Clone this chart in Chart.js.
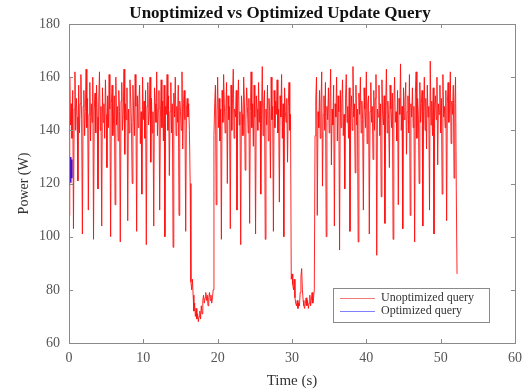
<!DOCTYPE html>
<html>
<head>
<meta charset="utf-8">
<script src="https://cdn.jsdelivr.net/npm/chart.js@4.4.1/dist/chart.umd.min.js"></script>
<style>
  html, body { margin: 0; padding: 0; background: #fff; }
  #wrap { width: 529px; height: 390px; }
</style>
</head>
<body>
<div id="wrap"><canvas id="powerChart" width="529" height="390"></canvas></div>
<script>
const sampleStep = 0.1;
const unoptPower = [
  // 0 - 16.3 s
  108,160,142,150,137,155,103,148,162,140,152,145,121,157,139,150,161,144,101,149,
  155,138,147,163,141,152,110,146,158,136,150,143,160,99,148,154,139,157,145,118,
  151,162,140,149,104,156,143,150,137,159,146,126,153,141,161,148,100,150,157,138,
  145,153,112,160,142,149,136,155,147,98,151,158,140,146,163,131,150,144,156,106,
  148,139,159,152,143,120,157,146,138,161,149,102,153,141,150,157,135,147,116,160,
  144,151,137,155,97,149,158,142,146,160,128,152,139,147,104,156,150,143,162,138,
  148,155,110,145,159,141,151,136,157,100,149,146,161,140,153,123,147,158,139,150,
  96,154,145,160,138,149,143,157,108,151,147,140,162,133,150,155,144,102,148,152,
  145,150,140,120,
  // idle dip 16.4 - 19.4 s
  83,80,84,78,72,75,70,73,69,71,68,70,72,69,74,71,76,78,75,77,
  79,76,78,74,77,79,76,78,75,77,80,
  // 19.5 - 29.8 s
  138,150,157,112,146,160,141,152,136,148,99,155,143,161,150,139,147,158,120,153,
  144,149,103,157,140,152,163,137,148,145,155,110,150,159,142,147,97,153,146,138,
  160,151,125,144,156,149,139,152,105,147,162,141,150,134,157,145,101,153,148,140,
  158,143,151,116,146,164,138,150,155,99,148,142,157,136,152,147,122,160,144,149,
  102,155,141,151,146,159,139,148,113,153,145,161,137,150,100,156,147,143,152,128,
  149,158,140,146,
  // idle dip 29.9 - 33.0 s
  84,86,82,80,84,77,75,74,76,73,75,74,79,85,88,80,76,74,73,75,
  77,74,76,73,75,78,74,76,79,75,77,80,
  // 33.1 - 52.2 s
  138,152,160,108,147,141,155,137,150,162,119,146,153,140,158,100,149,144,156,139,
  151,163,127,148,142,157,104,150,145,160,136,153,147,95,155,141,150,159,138,146,
  118,152,161,143,149,137,156,102,147,153,140,164,145,150,124,157,142,148,98,154,
  146,160,139,151,144,110,156,148,141,162,135,150,153,101,147,158,143,149,129,155,
  140,152,161,93,148,145,157,138,150,115,159,146,142,153,105,149,163,139,151,144,
  126,157,148,141,154,99,150,160,143,147,136,155,112,152,146,165,140,149,103,156,
  144,151,158,131,147,153,139,161,108,150,145,156,141,149,98,154,162,137,152,146,
  120,158,143,150,155,104,147,160,140,152,133,157,145,149,110,166,142,151,138,156,
  101,148,153,144,160,127,150,146,157,139,152,116,161,145,149,141,155,106,150,158,
  143,148,162,135,151,146,157,122,150,160,118,86
];
const optTimes = [0, 0.05, 0.1, 0.15, 0.2, 0.25];
const optPower = [121, 130, 123, 129, 122, 127];

const seriesLabels = ['Unoptimized query', 'Optimized query'];
const seriesColors = ['#ff1010', '#1a1aff'];
const legendColors = ['#f07a7a', '#8080ff'];
const chartTitle = 'Unoptimized vs Optimized Update Query';

const serif = '"Liberation Serif", "DejaVu Serif", serif';

const unoptPoints = unoptPower.map((v, i) => ({ x: i * sampleStep, y: v }));
const optPoints = optPower.map((v, i) => ({ x: optTimes[i], y: v }));

// box around the plot, inward ticks, title and legend (MATLAB look)
const matlabLook = {
  id: 'matlabLook',
  afterDraw(chart) {
    const c = chart.ctx;
    const a = chart.chartArea;
    const xs = chart.scales.x, ys = chart.scales.y;
    c.save();
    c.strokeStyle = '#8a8a8a';
    c.lineWidth = 1;
    c.strokeRect(a.left + 0.5, a.top + 0.5, a.right - a.left, a.bottom - a.top);
    c.beginPath();
    xs.ticks.forEach(t => {
      const px = Math.round(xs.getPixelForValue(t.value)) + 0.5;
      c.moveTo(px, a.bottom); c.lineTo(px, a.bottom - 4);
      c.moveTo(px, a.top); c.lineTo(px, a.top + 4);
    });
    ys.ticks.forEach(t => {
      const py = Math.round(ys.getPixelForValue(t.value)) + 0.5;
      c.moveTo(a.left, py); c.lineTo(a.left + 4, py);
      c.moveTo(a.right, py); c.lineTo(a.right - 4, py);
    });
    c.stroke();

    // title
    c.fillStyle = '#111';
    c.font = 'bold 17px ' + serif;
    c.textAlign = 'center';
    c.textBaseline = 'middle';
    c.fillText(chartTitle, 280, 14);

    // legend
    const lx = 333, ly = 288, lw = 156, lh = 34;
    c.fillStyle = '#fff';
    c.fillRect(lx, ly, lw, lh);
    c.strokeStyle = '#8a8a8a';
    c.strokeRect(lx + 0.5, ly + 0.5, lw, lh);
    c.font = '12px ' + serif;
    c.textAlign = 'left';
    chart.data.datasets.forEach((ds, i) => {
      const y = ly + 10 + i * 13;
      c.strokeStyle = legendColors[i];
      c.lineWidth = 1;
      c.beginPath();
      c.moveTo(lx + 7, y + 0.5); c.lineTo(lx + 42, y + 0.5);
      c.stroke();
      c.fillStyle = '#333';
      c.fillText(ds.label, lx + 48, y);
    });
    c.restore();
  }
};

new Chart(document.getElementById('powerChart'), {
  type: 'line',
  data: {
    datasets: [
      {
        label: seriesLabels[0],
        data: unoptPoints,
        borderColor: seriesColors[0],
        borderWidth: 0.9,
        pointRadius: 0,
        tension: 0
      },
      {
        label: seriesLabels[1],
        data: optPoints,
        borderColor: seriesColors[1],
        borderWidth: 4,
        pointRadius: 0,
        tension: 0
      }
    ]
  },
  options: {
    responsive: false,
    animation: false,
    layout: { padding: { left: 0, right: 12, top: 24, bottom: 0 } },
    plugins: {
      legend: { display: false },
      tooltip: { enabled: false },
      title: { display: false }
    },
    scales: {
      x: {
        type: 'linear',
        min: 0, max: 60,
        grid: { display: false, drawTicks: false },
        border: { display: false },
        ticks: { stepSize: 10, padding: 7, color: '#555', font: { family: serif, size: 14 } },
        title: { display: true, text: 'Time (s)', color: '#333', font: { family: serif, size: 15 }, padding: { top: 0, bottom: 0 } },
        afterFit(scale) { scale.height = 47; }
      },
      y: {
        min: 60, max: 180,
        grid: { display: false, drawTicks: false },
        border: { display: false },
        ticks: { stepSize: 20, padding: 9, color: '#555', font: { family: serif, size: 14 } },
        title: { display: true, text: 'Power (W)', color: '#333', font: { family: serif, size: 14 }, padding: { top: 16, bottom: 0 } },
        afterFit(scale) { scale.width = 69; }
      }
    }
  },
  plugins: [matlabLook]
});
</script>
</body>
</html>
